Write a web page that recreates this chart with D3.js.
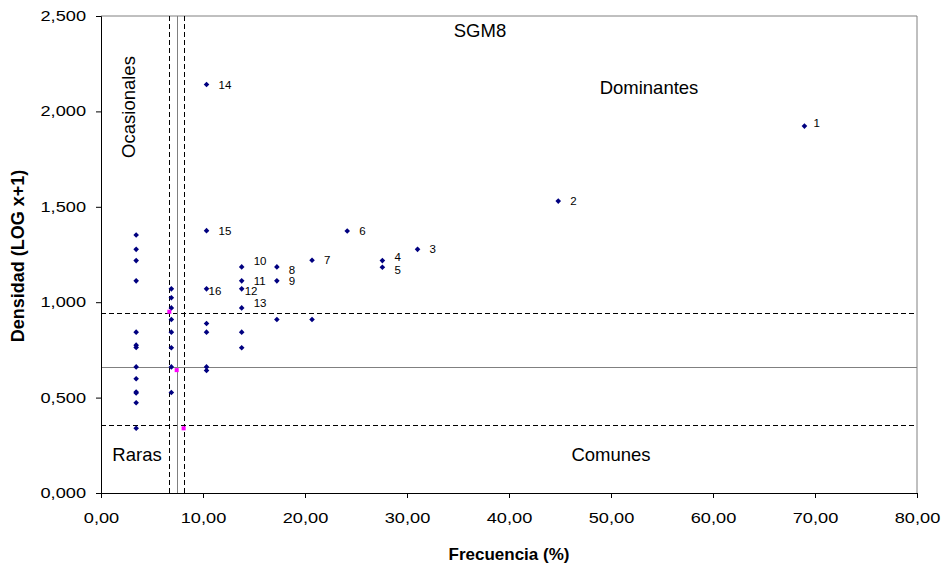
<!DOCTYPE html>
<html><head><meta charset="utf-8">
<script src="https://cdn.jsdelivr.net/npm/d3@7"></script>
<style>body{margin:0;background:#fff}svg{display:block}text{font-family:"Liberation Sans",Arial,sans-serif}</style>
</head><body><svg id="c" width="943" height="568"></svg>
<script>
// Labeled species
const labels   = ["1","2","3","4","5","6","7","8","9","10","11","12","13","14","15","16"];
const freqLab  = [68.966,44.828,31.034,27.586,27.586,24.138,20.690,17.241,17.241,13.793,13.793,13.793,13.793,10.345,10.345,10.345];
const densLab  = [1.923,1.530,1.277,1.218,1.183,1.373,1.220,1.185,1.112,1.185,1.112,1.070,0.970,2.141,1.375,1.070];
// Unlabeled species
const freqOther = [3.448,3.448,3.448,3.448,3.448,3.448,3.448,3.448,3.448,3.448,3.448,3.448,3.448,
                   6.897,6.897,6.897,6.897,6.897,6.897,6.897,6.897,
                   10.345,10.345,10.345,10.345,
                   13.793,13.793,
                   17.241,20.690];
const densOther = [1.352,1.277,1.218,1.112,0.843,0.775,0.763,0.661,0.599,0.529,0.524,0.473,0.339,
                   1.070,1.023,0.970,0.909,0.843,0.761,0.661,0.527,
                   0.888,0.843,0.661,0.642,
                   0.843,0.761,
                   0.909,0.909];
// Reference points (means) and threshold lines
const refFreq = [6.70,7.42,8.10];
const refDens = [0.950,0.644,0.339];
const vLines = [6.67,7.42,8.10];
const vDash  = [true,false,true];
const hLines = [0.943,0.660,0.356];
const hDash  = [true,false,true];
const xTicks = [0,10,20,30,40,50,60,70,80];
const yTicks = [0,0.5,1,1.5,2,2.5];
const regionText = ["SGM8","Dominantes","Ocasionales","Raras","Comunes"];

const W=943,H=568, m={l:101,r:26,t:16,b:75};
const svg=d3.select("#c");
const x=d3.scaleLinear().domain([0,80]).range([m.l,W-m.r]);
const y=d3.scaleLinear().domain([0,2.5]).range([H-m.b,m.t]);
const loc=d3.formatLocale({decimal:",",thousands:".",grouping:[3],currency:["",""]});

// frame (top/right)
svg.append("line").attr("x1",x(0)).attr("x2",x(80)).attr("y1",y(2.5)).attr("y2",y(2.5)).attr("stroke","#808080");
svg.append("line").attr("x1",x(80)).attr("x2",x(80)).attr("y1",y(2.5)).attr("y2",y(0)).attr("stroke","#808080");

// threshold lines
svg.selectAll(".hl").data(hLines).join("line")
  .attr("x1",x(0)).attr("x2",x(80)).attr("y1",d=>Math.round(y(d))+0.5).attr("y2",d=>Math.round(y(d))+0.5)
  .attr("stroke",(d,i)=>hDash[i]?"#000":"#808080").attr("stroke-width",1)
  .attr("stroke-dasharray",(d,i)=>hDash[i]?"5,3":null);
svg.selectAll(".vl").data(vLines).join("line")
  .attr("x1",d=>Math.round(x(d))+0.5).attr("x2",d=>Math.round(x(d))+0.5).attr("y1",y(2.5)).attr("y2",y(0))
  .attr("stroke",(d,i)=>vDash[i]?"#000":"#808080").attr("stroke-width",1)
  .attr("stroke-dasharray",(d,i)=>vDash[i]?"5,3":null);

// axes
const ya=svg.append("g").attr("transform",`translate(${m.l},0)`)
  .call(d3.axisLeft(y).tickValues(yTicks).tickFormat(loc.format(".3f")).tickSize(5));
const xa=svg.append("g").attr("transform",`translate(0,${H-m.b})`)
  .call(d3.axisBottom(x).tickValues(xTicks).tickFormat(loc.format(".2f")).tickSize(5).tickPadding(15));
[ya,xa].forEach(g=>{g.selectAll("text").attr("font-size",14).attr("font-family","Liberation Sans, Arial").attr("fill","#000");
  g.select(".domain").attr("stroke","#000");g.selectAll(".tick line").attr("stroke","#000");});
ya.selectAll("text").attr("x",0).attr("transform","translate(-15,0) scale(1.3,1)");
xa.selectAll("text").attr("transform","scale(1.3,1)");

// diamond markers
const dia="M0,-2.8L2.8,0L0,2.8L-2.8,0Z";
const allF=freqOther.concat(freqLab), allD=densOther.concat(densLab);
svg.selectAll(".pt").data(allF).join("path")
  .attr("d",dia).attr("transform",(d,i)=>`translate(${x(d)},${y(allD[i])})`).attr("fill","#000080");
svg.selectAll(".rp").data(refFreq).join("rect")
  .attr("x",d=>x(d)-2).attr("y",(d,i)=>y(refDens[i])-2).attr("width",4).attr("height",4).attr("fill","#ff00ff");

// point labels
const off={"1":[9,-3],"4":[12,-4],"5":[12,3],"8":[12,3],"10":[12,-6],"12":[3,2],"16":[2,2],"13":[12,-5]};
svg.selectAll(".lb").data(labels).join("text")
  .attr("x",(d,i)=>x(freqLab[i])+(off[d]?off[d][0]:12))
  .attr("y",(d,i)=>y(densLab[i])+(off[d]?off[d][1]:0))
  .attr("dy","0.35em").attr("font-size",11.5).attr("fill","#000").text(d=>d);

// region texts
const rt=(t,xx,yy,rot)=>svg.append("text").attr("transform",`translate(${xx},${yy})`+(rot?" rotate(-90)":""))
  .attr("dy","0.35em").attr("text-anchor","middle").attr("font-size",18.5).attr("fill","#000").text(t);
rt(regionText[0],480,31);
rt(regionText[1],649,88);
rt(regionText[2],129,107,true);
rt(regionText[3],137,455);
rt(regionText[4],611,455);

// axis titles
svg.append("text").attr("x",(m.l+W-m.r)/2).attr("y",554).attr("dy","0.35em").attr("text-anchor","middle")
  .attr("font-size",17).attr("font-weight","bold").text("Frecuencia (%)");
svg.append("text").attr("transform",`translate(18,256) rotate(-90)`).attr("dy","0.35em").attr("text-anchor","middle")
  .attr("font-size",18).attr("font-weight","bold").text("Densidad (LOG x+1)");
</script></body></html>
